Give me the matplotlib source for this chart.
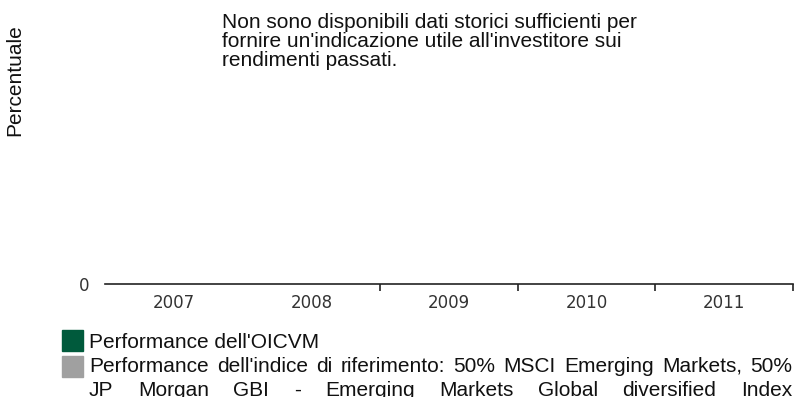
import numpy as np
import matplotlib
matplotlib.use("Agg")
import matplotlib.pyplot as plt
from matplotlib.patches import Rectangle

# anni e rendimenti (nessun dato storico disponibile)
anni = ["2007", "2008", "2009", "2010", "2011"]
perf_oicvm = [np.nan, np.nan, np.nan, np.nan, np.nan]
perf_indice = [np.nan, np.nan, np.nan, np.nan, np.nan]

nota = ["Non sono disponibili dati storici sufficienti per",
        "fornire un'indicazione utile all'investitore sui",
        "rendimenti passati."]
voce_oicvm = "Performance dell'OICVM"
voce_indice = ["Performance dell'indice di riferimento: 50% MSCI Emerging Markets, 50%",
               "JP Morgan GBI - Emerging Markets Global diversified Index"]

verde = "#005a3c"
grigio = "#a0a0a0"
W, H = 798, 397

fig = plt.figure(figsize=(W / 100, H / 100), dpi=100)
ax = fig.add_axes([105 / W, (H - 284) / H, (793 - 105) / W, 0.6])

x = np.arange(len(anni))
ax.bar(x - 0.2, perf_oicvm, width=0.35, color=verde)
ax.bar(x + 0.2, perf_indice, width=0.35, color=grigio)

ax.set_xlim(-0.5, len(anni) - 0.5)
ax.set_ylim(0, 1)
for s in ["top", "right", "left"]:
    ax.spines[s].set_visible(False)
ax.spines["bottom"].set_linewidth(1.2)
ax.spines["bottom"].set_color("#222222")

ax.set_xticks(x)
ax.set_xticklabels(anni, fontfamily="DejaVu Sans", fontsize=12, color="#333333")
ax.set_xticks(x[1:] + 0.5, minor=True)
ax.tick_params(axis="x", which="major", length=0, pad=7)
ax.tick_params(axis="x", which="minor", length=5, width=1.2, color="#222222", direction="out")

ax.set_yticks([0])
ax.set_yticklabels(["0"], fontfamily="DejaVu Sans", fontsize=12, color="#333333")
ax.tick_params(axis="y", length=0, pad=11)

testo = dict(fontfamily="Liberation Sans", fontsize=15, color="#111111")


def fy(py):
    return 1 - py / H


fig.text(15 / W, fy(80), "Percentuale", rotation=90, ha="center", va="center", **testo)

# nota in alto, una riga alla volta
for i, riga in enumerate(nota):
    fig.text(222 / W, fy(28.5 + 18.5 * i), riga, ha="left", va="baseline", **testo)

# legenda
fig.patches.append(Rectangle((62 / W, fy(351)), 21 / W, 21 / H,
                             transform=fig.transFigure, color=verde))
fig.patches.append(Rectangle((62 / W, fy(377)), 21 / W, 21 / H,
                             transform=fig.transFigure, color=grigio))
fig.text(89 / W, fy(348), voce_oicvm, ha="left", va="baseline", **testo)

renderer = fig.canvas.get_renderer()


def riga_giustificata(riga, x0, x1, py):
    parole = riga.split()
    larghezze = []
    for p in parole:
        t = fig.text(0, 0, p, **testo)
        larghezze.append(t.get_window_extent(renderer).width)
        t.remove()
    spazio = (x1 - x0 - sum(larghezze)) / (len(parole) - 1)
    pos = x0
    for p, w in zip(parole, larghezze):
        fig.text(pos / W, fy(py), p, ha="left", va="baseline", **testo)
        pos += w + spazio


for i, riga in enumerate(voce_indice):
    riga_giustificata(riga, 89, 792, 372 + 24 * i)

fig.savefig("out.png", dpi=100)
